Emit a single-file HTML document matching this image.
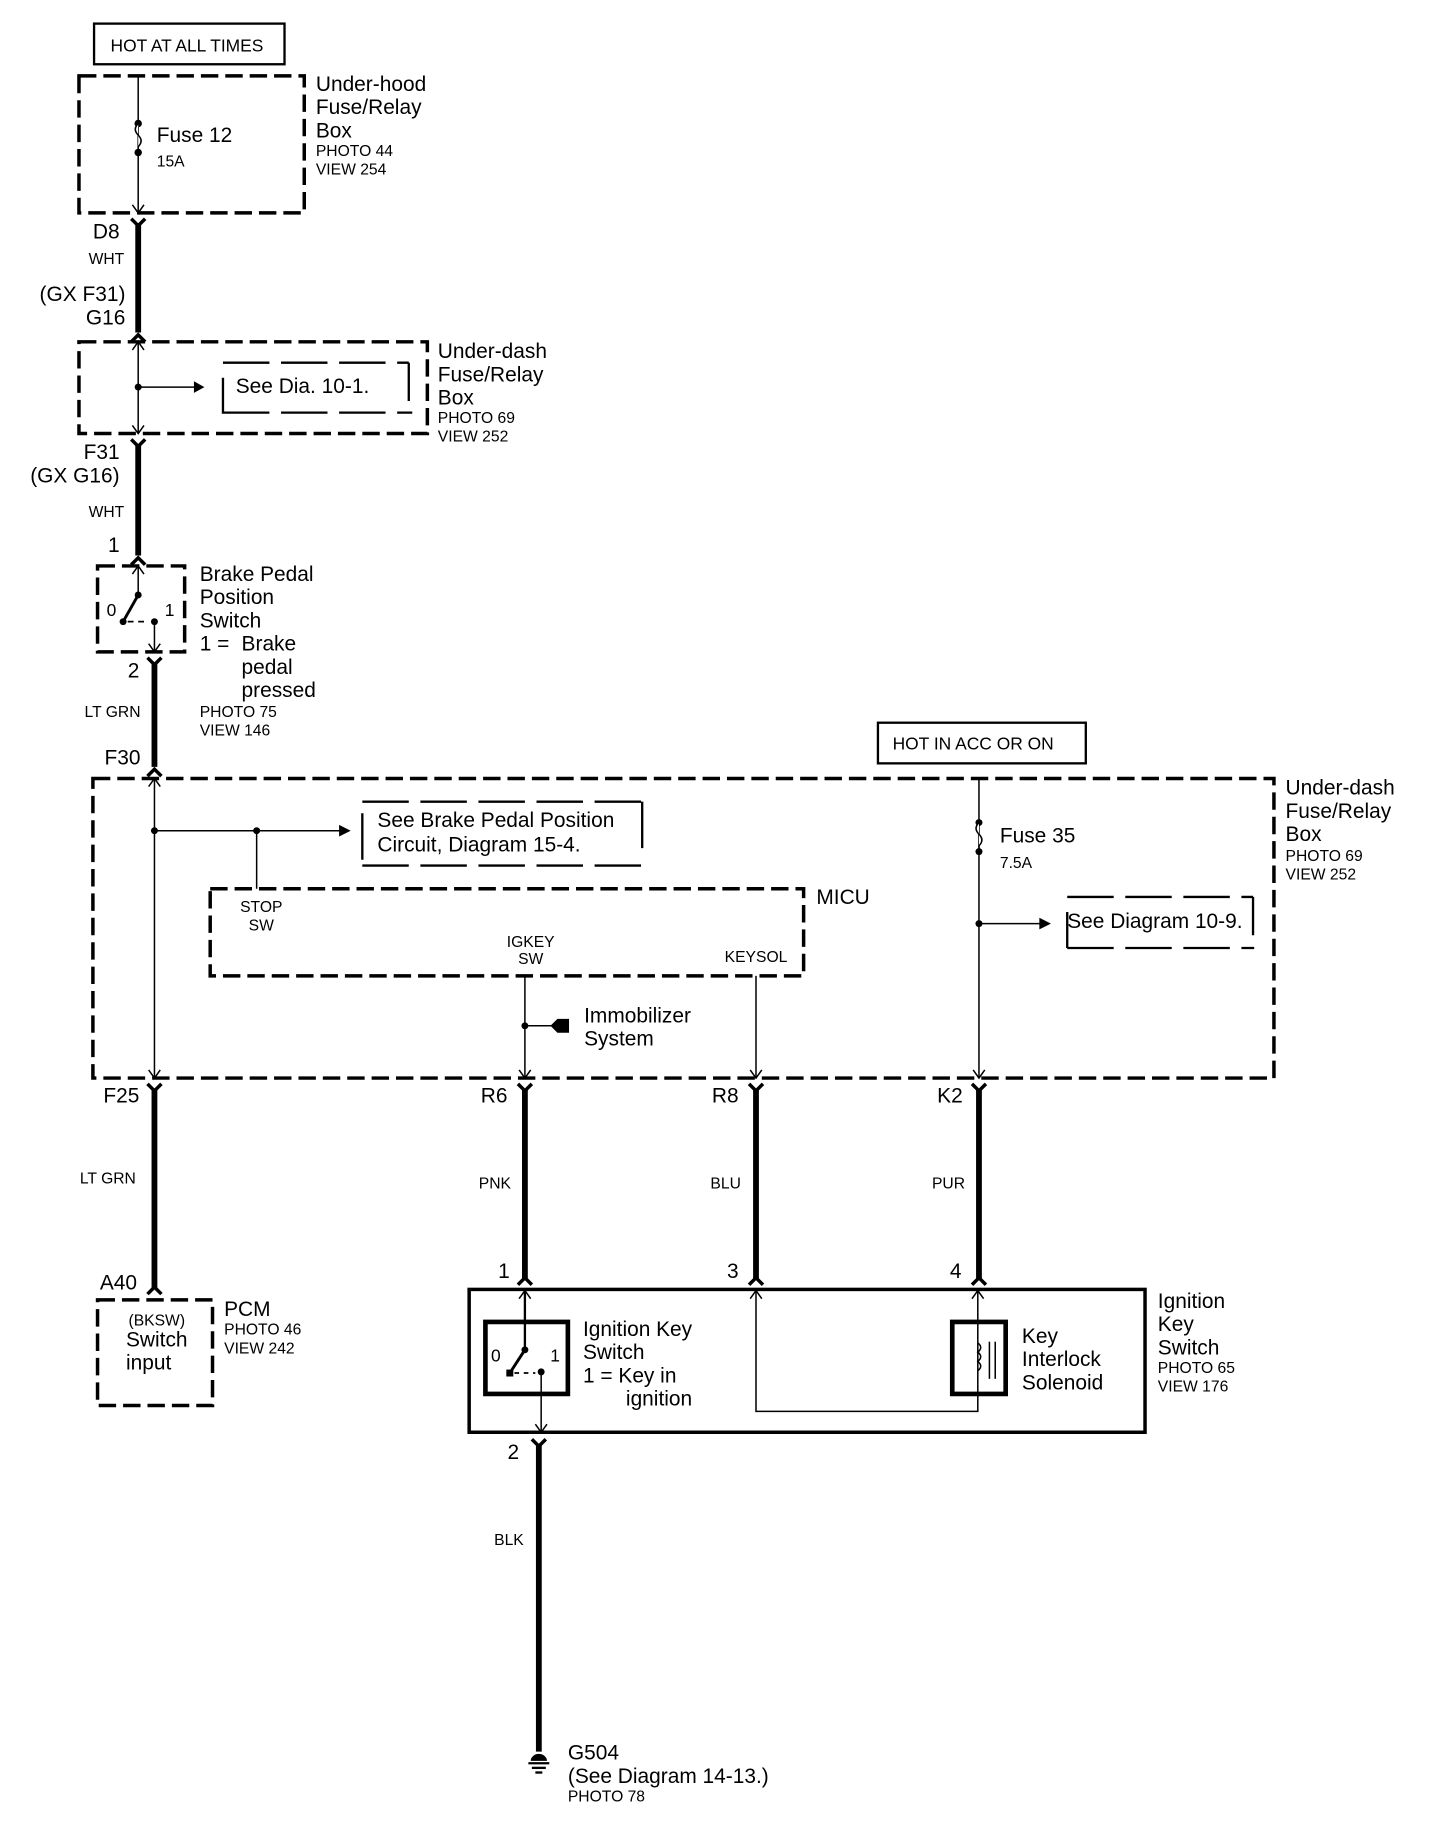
<!DOCTYPE html>
<html><head><meta charset="utf-8"><style>
html,body{margin:0;padding:0;background:#fff;}
svg{display:block;}
text{font-family:"Liberation Sans",sans-serif;fill:#000;}
.L{font-size:18px;} .S{font-size:13.5px;} .M{font-size:15px;}
.d{fill:none;stroke:#000;stroke-width:3;stroke-dasharray:15,6;}
.t{fill:none;stroke:#000;stroke-width:1.3;}
.k{fill:none;stroke:#000;stroke-width:5;}
</style></head><body>
<svg width="1440" height="1824" viewBox="0 0 1240 1570" xmlns="http://www.w3.org/2000/svg">
<defs>
<g id="yc"><path d="M-6,0 L0,6 L6,0" fill="none" stroke="#000" stroke-width="3"/></g>
<g id="dn"><path d="M-5,-7 L0,0 L5,-7" fill="none" stroke="#000" stroke-width="1.3"/></g>
<g id="up"><path d="M-5,7 L0,0 L5,7" fill="none" stroke="#000" stroke-width="1.3"/></g>
</defs>

<!-- HOT AT ALL TIMES -->
<rect x="81" y="20" width="164" height="35" fill="none" stroke="#000" stroke-width="2"/>
<text x="161" y="44" class="M" text-anchor="middle">HOT AT ALL TIMES</text>

<!-- Under-hood box -->
<rect x="68" y="65" width="194" height="118" class="d"/>
<line x1="119" y1="65" x2="119" y2="183" class="t"/>
<circle cx="119" cy="106" r="3.2"/><circle cx="119" cy="131" r="3.2"/>
<path d="M119,106 q-5,5 0,10 q5,5 0,10 v5" fill="#fff" stroke="#000" stroke-width="1.3"/>
<use href="#dn" x="119" y="183"/>
<text x="135" y="122" class="L">Fuse 12</text>
<text x="135" y="143" class="S">15A</text>
<text x="272" y="78" class="L">Under-hood</text>
<text x="272" y="98" class="L">Fuse/Relay</text>
<text x="272" y="118" class="L">Box</text>
<text x="272" y="134" class="S">PHOTO 44</text>
<text x="272" y="150" class="S">VIEW 254</text>

<path d="M113,188 L119,194 L125,188" fill="none" stroke="#000" stroke-width="3"/>
<line x1="119" y1="192" x2="119" y2="286" class="k"/>
<path d="M113,294 L119,288 L125,294" fill="none" stroke="#000" stroke-width="3"/>
<text x="103" y="205" class="L" text-anchor="end">D8</text>
<text x="107" y="227" class="S" text-anchor="end">WHT</text>
<text x="108" y="259" class="L" text-anchor="end">(GX F31)</text>
<text x="108" y="279" class="L" text-anchor="end">G16</text>

<!-- Under-dash box 1 -->
<rect x="68" y="294" width="300" height="79" class="d"/>
<line x1="119" y1="294" x2="119" y2="373" class="t"/>
<use href="#up" x="119" y="294"/><use href="#dn" x="119" y="373"/>
<circle cx="119" cy="333" r="3"/>
<line x1="119" y1="333" x2="175" y2="333" class="t"/>
<path d="M167,328 L176,333 L167,338 Z"/>
<path d="M192,312 H352 M352,312 V345 M192,325 V356 M192,355 H355" fill="none" stroke="#000" stroke-width="2" stroke-dasharray="40,10"/>
<text x="203" y="338" class="L">See Dia. 10-1.</text>
<text x="377" y="308" class="L">Under-dash</text>
<text x="377" y="328" class="L">Fuse/Relay</text>
<text x="377" y="348" class="L">Box</text>
<text x="377" y="364" class="S">PHOTO 69</text>
<text x="377" y="380" class="S">VIEW 252</text>

<path d="M113,378 L119,384 L125,378" fill="none" stroke="#000" stroke-width="3"/>
<line x1="119" y1="382" x2="119" y2="478" class="k"/>
<path d="M113,486 L119,480 L125,486" fill="none" stroke="#000" stroke-width="3"/>
<text x="103" y="395" class="L" text-anchor="end">F31</text>
<text x="103" y="415" class="L" text-anchor="end">(GX G16)</text>
<text x="107" y="445" class="S" text-anchor="end">WHT</text>
<text x="103" y="475" class="L" text-anchor="end">1</text>

<!-- Brake switch -->
<rect x="84" y="487" width="75" height="74" class="d"/>
<line x1="119" y1="487" x2="119" y2="512" class="t" stroke-width="2"/>
<use href="#up" x="119" y="487"/>
<circle cx="119" cy="512" r="3"/>
<line x1="119" y1="512" x2="106" y2="535" stroke="#000" stroke-width="2.5"/>
<circle cx="106" cy="535" r="3"/>
<line x1="110" y1="535" x2="128" y2="535" stroke="#000" stroke-width="1.5" stroke-dasharray="5,4"/>
<circle cx="133" cy="535" r="3"/>
<line x1="133" y1="535" x2="133" y2="561" class="t"/>
<use href="#dn" x="133" y="561"/>
<text x="96" y="530" class="M" text-anchor="middle">0</text>
<text x="146" y="530" class="M" text-anchor="middle">1</text>
<text x="172" y="500" class="L">Brake Pedal</text>
<text x="172" y="520" class="L">Position</text>
<text x="172" y="540" class="L">Switch</text>
<text x="172" y="560" class="L">1 =</text>
<text x="208" y="560" class="L">Brake</text>
<text x="208" y="580" class="L">pedal</text>
<text x="208" y="600" class="L">pressed</text>
<text x="172" y="617" class="S">PHOTO 75</text>
<text x="172" y="633" class="S">VIEW 146</text>

<path d="M127,566 L133,572 L139,566" fill="none" stroke="#000" stroke-width="3"/>
<line x1="133" y1="570" x2="133" y2="660" class="k"/>
<path d="M127,668 L133,662 L139,668" fill="none" stroke="#000" stroke-width="3"/>
<text x="120" y="583" class="L" text-anchor="end">2</text>
<text x="121" y="617" class="S" text-anchor="end">LT GRN</text>
<text x="121" y="658" class="L" text-anchor="end">F30</text>

<!-- HOT IN ACC -->
<rect x="756" y="622" width="179" height="35" fill="none" stroke="#000" stroke-width="2"/>
<text x="838" y="645" class="M" text-anchor="middle">HOT IN ACC OR ON</text>

<!-- Big under-dash box -->
<rect x="80" y="670" width="1017" height="258" class="d"/>
<line x1="133" y1="670" x2="133" y2="928" class="t"/>
<use href="#up" x="133" y="670"/><use href="#dn" x="133" y="928"/>
<circle cx="133" cy="715" r="3"/>
<line x1="133" y1="715" x2="300" y2="715" class="t"/>
<path d="M292,710 L302,715 L292,720 Z"/>
<circle cx="221" cy="715" r="3"/>
<line x1="221" y1="715" x2="221" y2="765" class="t"/>
<path d="M312,690 H553 M553,690 V733 M312,700 V745 M312,745 H553" fill="none" stroke="#000" stroke-width="2" stroke-dasharray="40,10"/>
<text x="325" y="712" class="L">See Brake Pedal Position</text>
<text x="325" y="733" class="L">Circuit, Diagram 15-4.</text>

<rect x="181" y="765" width="511" height="75" class="d"/>
<text x="703" y="778" class="L">MICU</text>
<text x="225" y="785" class="S" text-anchor="middle">STOP</text>
<text x="225" y="801" class="S" text-anchor="middle">SW</text>
<text x="457" y="815" class="S" text-anchor="middle">IGKEY</text>
<text x="457" y="830" class="S" text-anchor="middle">SW</text>
<text x="651" y="828" class="S" text-anchor="middle">KEYSOL</text>

<line x1="452" y1="840" x2="452" y2="928" class="t"/>
<use href="#dn" x="452" y="928"/>
<circle cx="452" cy="883" r="3"/>
<line x1="452" y1="883" x2="482" y2="883" class="t"/>
<path d="M480,877 L490,877 L490,889 L480,889 L474,883 Z"/>
<text x="503" y="880" class="L">Immobilizer</text>
<text x="503" y="900" class="L">System</text>
<line x1="651" y1="840" x2="651" y2="928" class="t"/>
<use href="#dn" x="651" y="928"/>

<line x1="843" y1="670" x2="843" y2="928" class="t"/>
<use href="#dn" x="843" y="928"/>
<circle cx="843" cy="708" r="3"/><circle cx="843" cy="733" r="3"/>
<path d="M843,708 q-5,5 0,10 q5,5 0,10 v5" fill="#fff" stroke="#000" stroke-width="1.3"/>
<text x="861" y="725" class="L">Fuse 35</text>
<text x="861" y="747" class="S">7.5A</text>
<circle cx="843" cy="795" r="3"/>
<line x1="843" y1="795" x2="903" y2="795" class="t"/>
<path d="M895,790 L905,795 L895,800 Z"/>
<path d="M919,772 H1079 M1079,772 V805 M919,785 V816 M919,816 H1080" fill="none" stroke="#000" stroke-width="2" stroke-dasharray="40,10"/>
<text x="919" y="799" class="L">See Diagram 10-9.</text>
<text x="1107" y="684" class="L">Under-dash</text>
<text x="1107" y="704" class="L">Fuse/Relay</text>
<text x="1107" y="724" class="L">Box</text>
<text x="1107" y="741" class="S">PHOTO 69</text>
<text x="1107" y="757" class="S">VIEW 252</text>

<!-- lower thick wires -->
<g fill="none" stroke="#000" stroke-width="3">
<path d="M127,933 L133,939 L139,933"/><path d="M446,933 L452,939 L458,933"/>
<path d="M645,933 L651,939 L657,933"/><path d="M837,933 L843,939 L849,933"/>
<path d="M127,1114 L133,1108 L139,1114"/><path d="M446,1106 L452,1100 L458,1106"/>
<path d="M645,1106 L651,1100 L657,1106"/><path d="M837,1106 L843,1100 L849,1106"/>
</g>
<line x1="133" y1="937" x2="133" y2="1110" class="k"/>
<line x1="452" y1="937" x2="452" y2="1102" class="k"/>
<line x1="651" y1="937" x2="651" y2="1102" class="k"/>
<line x1="843" y1="937" x2="843" y2="1102" class="k"/>
<text x="120" y="949" class="L" text-anchor="end">F25</text>
<text x="437" y="949" class="L" text-anchor="end">R6</text>
<text x="636" y="949" class="L" text-anchor="end">R8</text>
<text x="829" y="949" class="L" text-anchor="end">K2</text>
<text x="117" y="1019" class="S" text-anchor="end">LT GRN</text>
<text x="440" y="1023" class="S" text-anchor="end">PNK</text>
<text x="638" y="1023" class="S" text-anchor="end">BLU</text>
<text x="831" y="1023" class="S" text-anchor="end">PUR</text>
<text x="118" y="1110" class="L" text-anchor="end">A40</text>
<text x="439" y="1100" class="L" text-anchor="end">1</text>
<text x="636" y="1100" class="L" text-anchor="end">3</text>
<text x="828" y="1100" class="L" text-anchor="end">4</text>

<!-- PCM -->
<rect x="84" y="1119" width="99" height="91" class="d"/>
<text x="135" y="1141" class="S" text-anchor="middle">(BKSW)</text>
<text x="135" y="1159" class="L" text-anchor="middle">Switch</text>
<text x="128" y="1179" class="L" text-anchor="middle">input</text>
<text x="193" y="1133" class="L">PCM</text>
<text x="193" y="1149" class="S">PHOTO 46</text>
<text x="193" y="1165" class="S">VIEW 242</text>

<!-- Ignition key switch -->
<rect x="404" y="1110" width="582" height="123" fill="none" stroke="#000" stroke-width="3"/>
<rect x="418" y="1138" width="71" height="62" fill="none" stroke="#000" stroke-width="4"/>
<line x1="452" y1="1110" x2="452" y2="1162" stroke="#000" stroke-width="2"/>
<use href="#up" x="452" y="1111"/>
<circle cx="452" cy="1162" r="3"/>
<line x1="452" y1="1162" x2="439" y2="1182" stroke="#000" stroke-width="2.5"/>
<rect x="436" y="1179" width="6" height="6"/>
<line x1="443" y1="1182" x2="461" y2="1182" stroke="#000" stroke-width="1.5" stroke-dasharray="4,4"/>
<circle cx="466" cy="1181" r="3"/>
<line x1="466" y1="1181" x2="466" y2="1233" class="t"/>
<use href="#dn" x="466" y="1233"/>
<text x="427" y="1172" class="M" text-anchor="middle">0</text>
<text x="478" y="1172" class="M" text-anchor="middle">1</text>
<text x="502" y="1150" class="L">Ignition Key</text>
<text x="502" y="1170" class="L">Switch</text>
<text x="502" y="1190" class="L">1 = Key in</text>
<text x="539" y="1210" class="L">ignition</text>

<path d="M651,1111 V1215 H842 V1111" class="t"/>
<use href="#up" x="651" y="1111"/><use href="#up" x="842" y="1111"/>
<rect x="820" y="1138" width="46" height="62" fill="none" stroke="#000" stroke-width="4"/>
<path d="M842,1156 q5,4 0,8 q5,4 0,8 q5,4 0,8" fill="none" stroke="#000" stroke-width="1.3"/>
<line x1="852" y1="1155" x2="852" y2="1187" class="t"/>
<line x1="857" y1="1155" x2="857" y2="1187" class="t"/>
<text x="880" y="1156" class="L">Key</text>
<text x="880" y="1176" class="L">Interlock</text>
<text x="880" y="1196" class="L">Solenoid</text>
<text x="997" y="1126" class="L">Ignition</text>
<text x="997" y="1146" class="L">Key</text>
<text x="997" y="1166" class="L">Switch</text>
<text x="997" y="1182" class="S">PHOTO 65</text>
<text x="997" y="1198" class="S">VIEW 176</text>

<!-- Ground -->
<path d="M458,1239 L464,1245 L470,1239" fill="none" stroke="#000" stroke-width="3"/>
<line x1="464" y1="1243" x2="464" y2="1508" class="k"/>
<text x="447" y="1256" class="L" text-anchor="end">2</text>
<text x="451" y="1330" class="S" text-anchor="end">BLK</text>
<path d="M457,1516 a7,6 0 0 1 14,0 Z"/>
<line x1="455" y1="1518" x2="473" y2="1518" stroke="#000" stroke-width="2"/>
<line x1="458" y1="1522" x2="470" y2="1522" stroke="#000" stroke-width="2"/>
<line x1="461" y1="1526" x2="467" y2="1526" stroke="#000" stroke-width="2"/>
<text x="489" y="1515" class="L">G504</text>
<text x="489" y="1535" class="L">(See Diagram 14-13.)</text>
<text x="489" y="1551" class="S">PHOTO 78</text>
</svg>
</body></html>
